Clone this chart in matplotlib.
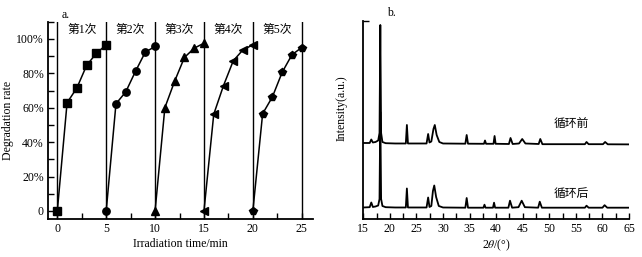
import matplotlib
matplotlib.use('Agg')
import matplotlib.pyplot as plt
from matplotlib.ticker import MultipleLocator

plt.rcParams['font.family'] = ['Liberation Serif', 'Noto Sans CJK SC']
plt.rcParams['font.size'] = 8.5
plt.rcParams['mathtext.fontset'] = 'stix'

# panel a: degradation over 5 cycles
cycle_names = ['第1次', '第2次', '第3次', '第4次', '第5次']
cycle_times = [
    [0, 1, 2, 3, 4, 5],
    [5, 6, 7, 8, 9, 10],
    [10, 11, 12, 13, 14, 15],
    [15, 16, 17, 18, 19, 20],
    [20, 21, 22, 23, 24, 25],
]
cycle_rates = [
    [0, 0.629, 0.715, 0.846, 0.917, 0.965],
    [0, 0.623, 0.692, 0.812, 0.923, 0.956],
    [0, 0.600, 0.754, 0.892, 0.946, 0.975],
    [0, 0.562, 0.729, 0.873, 0.937, 0.965],
    [0, 0.565, 0.663, 0.806, 0.908, 0.950],
]
cycle_markers = ['s', 'o', '^', '<', 'p']
cycle_bounds = [0, 5, 10, 15, 20, 25]
rate_ticks = [0, 0.2, 0.4, 0.6, 0.8, 1.0]
rate_labels = ['0', '20%', '40%', '60%', '80%', '100%']

# panel b: XRD patterns (traced points)
before_2theta = [15.0, 16.2, 16.5, 16.8, 17.3, 17.8, 18.05, 18.2, 18.35, 18.6, 19.2, 21.0,
                 23.0, 23.2, 23.4, 26.9, 27.2, 27.45, 27.8, 28.2, 28.45, 28.8, 29.3, 30.0,
                 34.2, 34.45, 34.7, 37.7, 37.9, 38.1, 39.5, 39.7, 39.9, 42.4, 42.7, 43.1,
                 44.3, 44.9, 45.5, 48.0, 48.3, 48.7, 56.7, 57.0, 57.4, 60.1, 60.5, 61.0, 65.0]
before_int = [76.0, 76.0, 79.5, 76.5, 77.0, 78.5, 86.0, 194.0, 86.0, 77.0, 75.8, 75.5,
              75.5, 94.0, 75.5, 75.5, 85.0, 76.5, 77.5, 90.0, 94.0, 84.0, 77.0, 75.5,
              75.3, 84.0, 75.3, 75.2, 78.5, 75.2, 75.2, 83.0, 75.2, 75.0, 81.0, 75.0,
              75.5, 80.0, 75.5, 75.0, 80.0, 74.8, 74.8, 77.0, 74.8, 74.8, 77.0, 74.7, 74.6]
after_2theta = [15.0, 16.2, 16.5, 16.8, 17.3, 17.8, 18.05, 18.2, 18.35, 18.6, 19.2, 21.0,
                23.0, 23.2, 23.4, 26.9, 27.2, 27.45, 27.8, 28.1, 28.35, 28.7, 29.2, 30.0,
                34.2, 34.45, 34.7, 37.6, 37.8, 38.0, 39.4, 39.6, 39.8, 42.3, 42.6, 43.0,
                44.2, 44.8, 45.4, 47.9, 48.2, 48.6, 56.7, 57.0, 57.4, 60.0, 60.4, 60.9, 65.0]
after_int = [11.5, 11.8, 16.5, 12.0, 12.5, 13.5, 20.0, 107.0, 20.0, 13.0, 11.8, 11.5,
             11.5, 30.5, 11.5, 11.5, 21.5, 12.0, 13.0, 28.0, 33.5, 22.0, 13.0, 11.5,
             11.3, 21.0, 11.3, 11.3, 14.3, 11.3, 11.3, 16.3, 11.3, 11.3, 18.3, 11.3,
             11.8, 18.3, 11.8, 11.3, 17.3, 11.3, 11.3, 13.3, 11.3, 11.3, 13.8, 11.3, 11.3]
pattern_labels = ['循环前', '循环后']

fig = plt.figure(figsize=(6.42, 2.57), dpi=100)
ax1 = fig.add_axes([0.0748, 0.1479, 0.4127, 0.7677])
ax2 = fig.add_axes([0.5659, 0.1479, 0.4139, 0.7716])

for ax in (ax1, ax2):
    ax.spines['top'].set_visible(False)
    ax.spines['right'].set_visible(False)
    for s in ('left', 'bottom'):
        ax.spines[s].set_linewidth(1.3)
    ax.tick_params(which='both', direction='in', width=1.0, length=4, labelsize=8.5, pad=3)

# ---- panel a
for b in cycle_bounds:
    ax1.axvline(b, color='black', lw=1.0)
for t, r, m in zip(cycle_times, cycle_rates, cycle_markers):
    ax1.plot(t, r, color='black', lw=1.1, marker=m, ms=5.3, mfc='black', mec='black', clip_on=False)
for i, name in enumerate(cycle_names):
    mid = (cycle_bounds[i] + cycle_bounds[i + 1]) / 2
    ax1.text(mid, 1.05, name, ha='center', va='center', fontsize=8.5)
ax1.set_xlim(-0.95, 26.15)
ax1.set_ylim(-0.0465, 1.10)
ax1.set_xticks(cycle_bounds)
ax1.xaxis.set_minor_locator(MultipleLocator(2.5))
ax1.set_yticks(rate_ticks)
ax1.set_yticklabels(rate_labels)
ax1.yaxis.set_minor_locator(MultipleLocator(0.1))
ax1.set_xlabel('Irradiation time/min', fontsize=8.5, labelpad=2)
ax1.set_ylabel('Degradation rate', fontsize=8.5, labelpad=3)
ax1.yaxis.set_label_coords(-0.13, 0.5)
fig.text(62 / 642, 1 - 14.5 / 257, 'a.', ha='left', va='center', fontsize=8.5)

# ---- panel b
ax2.plot(before_2theta, before_int, color='black', lw=1.3)
ax2.plot(after_2theta, after_int, color='black', lw=1.3)
ax2.text(54.1, 94, pattern_labels[0], ha='center', va='center', fontsize=8.5)
ax2.text(54.1, 25, pattern_labels[1], ha='center', va='center', fontsize=8.5)
ax2.set_xlim(15, 65)
ax2.set_ylim(0, 198.3)
ax2.set_xticks(range(15, 66, 5))
ax2.xaxis.set_minor_locator(MultipleLocator(2.5))
ax2.set_yticks([198.3])
ax2.set_yticklabels([''])
ax2.set_xlabel('2$\\theta$/(°)', fontsize=8.5, labelpad=2)
ax2.set_ylabel('Intensity(a.u.)', fontsize=8.5, labelpad=8)
ax2.yaxis.set_label_coords(-0.06, 0.56)
fig.text(387 / 642, 1 - 13.5 / 257, 'b.', ha='left', va='center', fontsize=8.5)

fig.savefig('out.png', dpi=100)
